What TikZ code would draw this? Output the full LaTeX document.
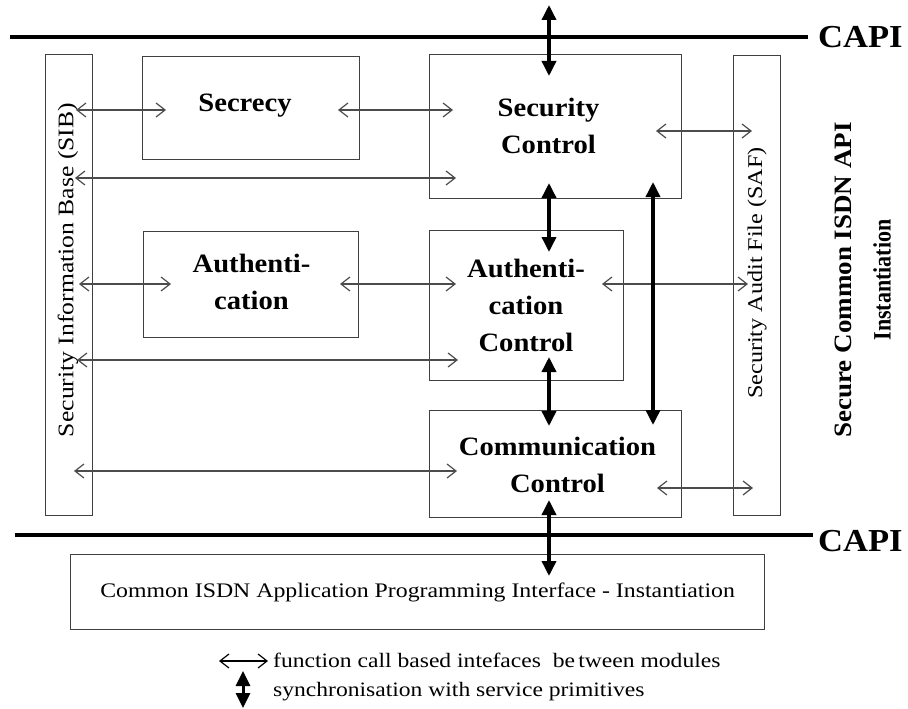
\documentclass[tikz,border=0pt]{standalone}
\usepackage{fontspec}
\setmainfont{Liberation Serif}
\newfontfamily\rmw{Liberation Serif}[FakeStretch=1.15]
\newfontfamily\bfw{Liberation Serif}[FakeStretch=1.08]
\newfontfamily\bfn{Liberation Serif}[FakeStretch=0.88]
\usetikzlibrary{arrows.meta}
\begin{document}
\begin{tikzpicture}[x=1pt,y=-1pt,
  box/.style={draw=black!75, line width=1.2pt, inner sep=0pt, anchor=north west},
  lbl/.style={font=\bfw\bfseries\fontsize{26.5}{37}\selectfont, align=center, inner sep=0pt},
  vlbl/.style={inner sep=0pt, rotate=90},
  thinarr/.style={draw=black!70, line width=1.2pt, {Straight Barb[length=9pt,width=14pt]}-{Straight Barb[length=9pt,width=14pt]}},
  thickarr/.style={line width=3.5pt, {Triangle[length=15pt,width=14pt]}-{Triangle[length=15pt,width=14pt]}},
  capiline/.style={line width=3.5pt},
  capilbl/.style={font=\bfw\bfseries\fontsize{32}{32}\selectfont, inner sep=0pt, anchor=west},
  legtxt/.style={font=\rmw\fontsize{20.5}{24}\selectfont, inner sep=0pt, anchor=west},
]
\useasboundingbox (0,0) rectangle (908,709);

% CAPI lines
\coordinate (capi1a) at (10,37);
\coordinate (capi1b) at (808,37);
\coordinate (capi2a) at (15,535);
\coordinate (capi2b) at (813,535);
\draw[capiline] (capi1a) -- (capi1b);
\draw[capiline] (capi2a) -- (capi2b);
\node[capilbl] (capitop) at (818,37) {CAPI};
\node[capilbl] (capibot) at (818,541) {CAPI};

% boxes
\node[box, minimum width=47pt, minimum height=461pt] (sib) at (45,54) {};
\node[box, minimum width=217pt, minimum height=103pt] (sec) at (142,56) {};
\node[box, minimum width=252pt, minimum height=144pt] (secctl) at (429,54) {};
\node[box, minimum width=47pt, minimum height=460pt] (saf) at (733,55) {};
\node[box, minimum width=215pt, minimum height=106pt] (auth) at (143,231) {};
\node[box, minimum width=194pt, minimum height=150pt] (authctl) at (429,230) {};
\node[box, minimum width=252pt, minimum height=107pt] (comm) at (429,410) {};
\node[box, minimum width=694pt, minimum height=75pt, font=\rmw\fontsize{20.7}{24}\selectfont] (capibox) at (70,554) {Common ISDN Application Programming Interface - Instantiation};

% labels
\node[lbl, anchor=base] (secT) at (245,111) {Secrecy};
\node[lbl] (secctlT) at (548.5,126) {Security\\Control};
\node[lbl] (authT) at (251.5,282) {Authenti-\\cation};
\node[lbl] (authctlT) at (526,305) {Authenti-\\cation\\Control};
\node[lbl] (commT) at (557.5,465) {Communication\\Control};
\node[vlbl, font=\rmw\fontsize{22.3}{24}\selectfont] (sibT) at (68,270) {Security Information Base (SIB)};
\node[vlbl, font=\rmw\fontsize{21}{24}\selectfont] (safT) at (757,273) {Security Audit File (SAF)};
\node[vlbl, align=center, font=\bfseries\fontsize{25}{39}\selectfont] (sideT) at (863,280) {{\bfw Secure Common ISDN API}\\{\bfn Instantiation}};

% thin arrows (function call interfaces)
\foreach \n/\xa/\xb/\yy in {1/76/166/110, 2/338/453/110, 3/75/456/178, 4/656/752/131,
  5/79/171/284, 6/340/456/284, 7/77/458/360, 8/602/748/284, 9/74/457/471, 10/657/753/488}{
  \coordinate (f\n a) at (\xa,\yy);
  \coordinate (f\n b) at (\xb,\yy);
  \draw[thinarr] (f\n a) -- (f\n b);
}

% thick arrows (synchronisation)
\foreach \n/\xx/\ya/\yb in {1/549/5/76, 2/549/183/252, 3/653/182/425, 4/549/357/426, 5/549/500/576}{
  \coordinate (s\n a) at (\xx,\ya);
  \coordinate (s\n b) at (\xx,\yb);
  \draw[thickarr] (s\n a) -- (s\n b);
}

% legend
\coordinate (lg1a) at (219,661);
\coordinate (lg1b) at (268,661);
\draw[thinarr, draw=black] (lg1a) -- (lg1b);
\node[legtxt, anchor=base west] (lgT1) at (273,667) {function call based intefaces \ be\,tween modules};
\coordinate (lg2a) at (243,671);
\coordinate (lg2b) at (243,708);
\draw[thickarr, line width=3pt] (lg2a) -- (lg2b);
\node[legtxt, anchor=base west] (lgT2) at (273,696) {synchronisation with service primitives};
\end{tikzpicture}
\end{document}
